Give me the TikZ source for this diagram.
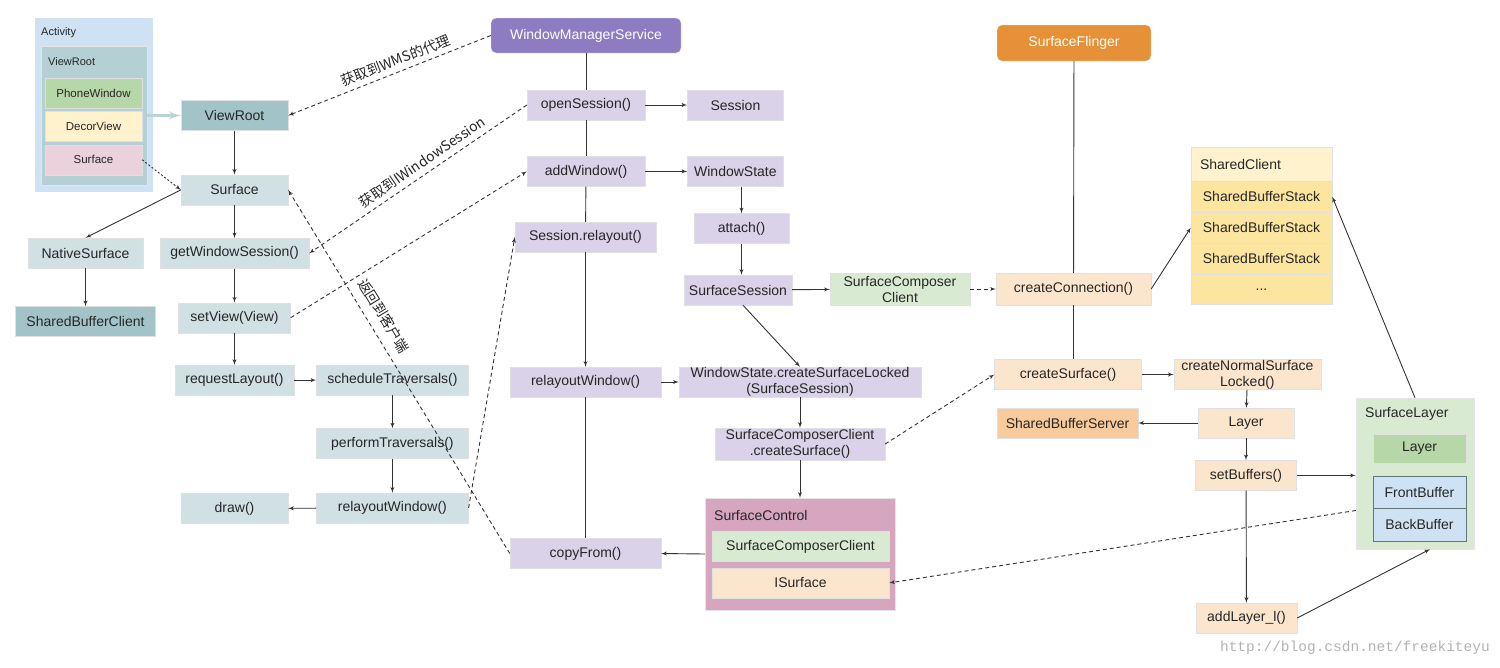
\documentclass[tikz,border=0pt]{standalone}
\usepackage{fontspec}
\setmainfont{Liberation Sans}
\setmonofont{Liberation Mono}
\newfontfamily\cjk{Noto Sans CJK SC}
\usetikzlibrary{arrows,positioning}
\definecolor{cli}{HTML}{D0E0E3}
\definecolor{clidark}{HTML}{A2C4C9}
\definecolor{wmsbox}{HTML}{D9D2E9}
\definecolor{wmshead}{HTML}{8E7CC3}
\definecolor{sfbox}{HTML}{FCE5CD}
\definecolor{sfhead}{HTML}{E69138}
\definecolor{sfdark}{HTML}{F9CB9C}
\definecolor{grn}{HTML}{D9EAD3}
\definecolor{grndark}{HTML}{B6D7A8}
\definecolor{ylw}{HTML}{FFF2CC}
\definecolor{ylwdark}{HTML}{FCE59F}
\definecolor{pnk}{HTML}{EAD1DC}
\definecolor{pnkdark}{HTML}{D5A6BD}
\definecolor{blu}{HTML}{CFE2F3}
\definecolor{ink}{HTML}{333333}

\begin{document}
\begin{tikzpicture}[x=1pt,y=-1pt,>=latex']
	\tikzset{box/.style={rectangle, draw=black!12, inner sep=0pt, minimum height=30pt, text=black!85, align=center, font=\fontsize{14}{16}\selectfont},
		sbox/.style={box, font=\fontsize{11.5}{13}\selectfont},
		headbox/.style={box, rounded corners=5pt, minimum height=35pt, text=white},
		pane/.style={rectangle, draw=black!10, inner sep=0pt},
		tag/.style={anchor=west, inner sep=0pt, text=black!85, font=\fontsize{14}{16}\selectfont},
		link/.style={->, draw=ink, line width=0.9pt},
		trunk/.style={draw=ink, line width=0.9pt},
		call/.style={->, draw=ink, line width=0.9pt, dash pattern=on 4pt off 3pt},
		note/.style={sloped, above=#1, inner sep=2pt, text=black!85, font=\cjk\fontsize{14}{16}\selectfont},
		note/.default=3pt,
	}
	\useasboundingbox (0,0) rectangle (1500,667);
	% Activity
	\node [pane, fill=blu, draw=white, minimum width=119pt, minimum height=175pt] (act) at (93.5,104.5) {};
	\node [tag, font=\fontsize{11}{13}\selectfont] at (41,33) {Activity};
	\node [pane, fill=clidark!80!white, minimum width=106pt, minimum height=139pt] (avroot) at (94,115.5) {};
	\node [tag, font=\fontsize{11}{13}\selectfont] at (48,62) {ViewRoot};
	\node [sbox, fill=grndark, minimum width=97pt] (aphone) at (93.5,93) {PhoneWindow};
	\node [sbox, fill=ylw, minimum width=97pt, below=3pt of aphone] (adecor) {DecorView};
	\node [sbox, fill=pnk, minimum width=97pt, below=3pt of adecor] (asurf) {Surface};
	% client side
	\node [box, fill=clidark, minimum width=107pt] (vroot) at (234.5,115.5) {ViewRoot};
	\node [box, fill=cli, minimum width=107pt, below=44pt of vroot] (surf) {Surface};
	\node [box, fill=cli, minimum width=149pt, below=33pt of surf] (gws) {getWindowSession()};
	\node [box, fill=cli, minimum width=112pt, below=34pt of gws] (setview) {setView(View)};
	\node [box, fill=cli, minimum width=119pt, below=32pt of setview] (reqlay) {requestLayout()};
	\node [box, fill=cli, minimum width=115pt] (natsurf) at (85.5,253) {NativeSurface};
	\node [box, fill=clidark, minimum width=140pt, below=38pt of natsurf] (sbclient) {SharedBufferClient};
	\node [box, fill=cli, minimum width=152pt, right=22pt of reqlay] (sched) {scheduleTraversals()};
	\node [box, fill=cli, minimum width=152pt, below=33pt of sched] (perform) {performTraversals()};
	\node [box, fill=cli, minimum width=152pt, below=34pt of perform] (relcli) {relayoutWindow()};
	\node [box, fill=cli, minimum width=107pt] (drawcall) at (234.5,508.5) {draw()};
	% WindowManagerService side
	\node [headbox, fill=wmshead, minimum width=190pt] (wms) at (586,35.5) {WindowManagerService};
	\node [box, fill=wmsbox, minimum width=118pt] (opensess) at (586,105) {openSession()};
	\node [box, fill=wmsbox, minimum width=96pt, right=42pt of opensess] (session) {Session};
	\node [box, fill=wmsbox, minimum width=118pt, below=36pt of opensess] (addwin) {addWindow()};
	\node [box, fill=wmsbox, minimum width=96pt, right=42pt of addwin] (winstate) {WindowState};
	\node [box, fill=wmsbox, minimum width=141pt] (srelay) at (585.5,237) {Session.relayout()};
	\node [box, fill=wmsbox, minimum width=95pt] (attach) at (741.5,228.5) {attach()};
	\node [box, fill=wmsbox, minimum width=108pt] (surfsess) at (738,290) {SurfaceSession};
	\node [box, fill=grn, minimum width=140pt, minimum height=32pt] (sccl) at (900,289) {SurfaceComposer\\Client};
	\node [box, fill=wmsbox, minimum width=151pt] (relsrv) at (585.5,382) {relayoutWindow()};
	\node [box, fill=wmsbox, minimum width=242pt] (csl) at (800,382) {WindowState.createSurfaceLocked\\(SurfaceSession)};
	\node [box, fill=wmsbox, minimum width=170pt, minimum height=32pt] (sccs) at (800,444) {SurfaceComposerClient\\.createSurface()};
	\node [pane, fill=pnkdark, minimum width=190pt, minimum height=112pt] (sctrl) at (800,554) {};
	\node [tag] at (714,515) {SurfaceControl};
	\node [box, fill=grn, minimum width=177pt] (sctrlcl) at (800.5,546.5) {SurfaceComposerClient};
	\node [box, fill=sfbox, minimum width=177pt, below=6pt of sctrlcl] (isurf) {ISurface};
	\node [box, fill=wmsbox, minimum width=151pt] (copyfrom) at (585.5,553.5) {copyFrom()};
	% SurfaceFlinger side
	\node [headbox, fill=sfhead, minimum width=154pt, minimum height=36pt] (sf) at (1074,43) {SurfaceFlinger};
	\node [box, fill=sfbox, minimum width=155pt, minimum height=32pt] (cconn) at (1073.5,289) {createConnection()};
	\node [box, fill=sfbox, minimum width=147pt] (csurf) at (1068,374.5) {createSurface()};
	\node [box, fill=sfbox, minimum width=147pt, right=32pt of csurf] (cnsl) {createNormalSurface\\Locked()};
	\node [box, fill=sfdark, minimum width=141pt] (sbserver) at (1067.5,423) {SharedBufferServer};
	\node [box, fill=sfbox, minimum width=96pt] (layer) at (1246,423) {Layer};
	\node [box, fill=sfbox, minimum width=101pt, below=22pt of layer] (setbuf) {setBuffers()};
	\node [box, fill=sfbox, minimum width=101pt] (addlayer) at (1246.5,618) {addLayer\_l()};
	\node [box, fill=ylw, minimum width=141pt, minimum height=34pt, text width=123pt, align=left] (shcl) at (1261.5,164) {SharedClient};
	\node [box, fill=ylwdark, minimum width=141pt, minimum height=30.5pt, below=0pt of shcl] (sbs1) {SharedBufferStack};
	\node [box, fill=ylwdark, minimum width=141pt, minimum height=30.5pt, below=0pt of sbs1] (sbs2) {SharedBufferStack};
	\node [box, fill=ylwdark, minimum width=141pt, minimum height=30.5pt, below=0pt of sbs2] (sbs3) {SharedBufferStack};
	\node [box, fill=ylwdark, minimum width=141pt, minimum height=30.5pt, below=0pt of sbs3] (sbsmore) {...};
	\node [pane, fill=grn, minimum width=118pt, minimum height=151pt] (slayer) at (1415,473.5) {};
	\node [tag] at (1365,414) {SurfaceLayer};
	\node [box, fill=grndark, minimum width=93pt, minimum height=29pt] (sllayer) at (1419.5,448.5) {Layer};
	\node [box, fill=blu, draw=clidark!60!black, minimum width=93pt, minimum height=32pt] (front) at (1419.5,492) {FrontBuffer};
	\node [box, fill=blu, draw=clidark!60!black, minimum width=93pt, minimum height=33pt, below=0pt of front] (back) {BackBuffer};
	\node [anchor=east, inner sep=0pt, text=black!30, font=\ttfamily\fontsize{14.5}{16}\selectfont] (mark) at (1490,648) {http://blog.csdn.net/freekiteyu};

	% client arrows
	\draw [->, line width=3pt, draw=clidark!75!white] (vroot.west -| avroot.east) -- (vroot.west);
	\draw [->, draw=ink, line width=0.9pt, dash pattern=on 2pt off 2pt] (asurf.east) -- (surf.west);
	\draw [link] (vroot) -- (surf);
	\draw [link] (surf) -- (gws);
	\draw [link] (gws) -- (setview);
	\draw [link] (setview) -- (reqlay);
	\draw [link] (surf.west) -- (natsurf.north);
	\draw [link] (natsurf) -- (natsurf |- sbclient.north);
	\draw [link] (reqlay) -- (sched);
	\draw [link] (sched) -- (perform);
	\draw [link] (perform) -- (relcli);
	\draw [link] (relcli) -- (drawcall);
	% binder calls
	\draw [call] (wms.west) -- node[note, pos=0.45] {获取到WMS的代理} (vroot.east);
	\draw [call] (opensess.west) -- node[note, pos=0.45] {获取到IWindowSession} (gws.east);
	\draw [call] (setview.east) -- (addwin.west);
	\draw [call] (relcli.east) -- (srelay.west);
	\draw [call] (copyfrom.west) -- node[note=7pt, pos=0.63] {返回到客户端} (surf.east);
	% WindowManagerService arrows
	\draw [trunk] (wms) -- (opensess);
	\draw [trunk] (opensess) -- (addwin);
	\draw [trunk] (addwin) -- (srelay);
	\draw [link] (srelay) -- (relsrv);
	\draw [trunk] (relsrv) -- (copyfrom);
	\draw [link] (opensess) -- (session);
	\draw [link] (addwin) -- (winstate);
	\draw [link] (attach.north |- winstate.south) -- (attach.north);
	\draw [link] (attach) -- (attach |- surfsess.north);
	\draw [link] (surfsess) -- (sccl);
	\draw [link] ([xshift=5pt]surfsess.south) -- (csl.north);
	\draw [link] (relsrv) -- (csl);
	\draw [link] (csl) -- (sccs);
	\draw [link] (sccs) -- (sctrl);
	\draw [link] (sctrl.west) -- (copyfrom.east);
	% SurfaceFlinger arrows
	\draw [call] (sccl) -- (cconn);
	\draw [call] (sccs.east) -- (csurf.west);
	\draw [trunk] (sf) -- (cconn);
	\draw [trunk] (cconn.south) -- (cconn.south |- csurf.north);
	\draw [link] (cconn.east) -- (sbs2.west);
	\draw [link] (csurf) -- (cnsl);
	\draw [link] (cnsl) -- (layer);
	\draw [link] (layer) -- (sbserver);
	\draw [link] (layer) -- (setbuf);
	\draw [link] (setbuf) -- (addlayer);
	\draw [link] (setbuf) -- (setbuf -| slayer.west);
	\draw [link] (addlayer.east) -- ([xshift=15pt]slayer.south);
	\draw [link] (slayer.north) -- (sbs1.east);
	\draw [call] ([yshift=-37pt]slayer.west) -- (isurf.east);
\end{tikzpicture}
\end{document}
